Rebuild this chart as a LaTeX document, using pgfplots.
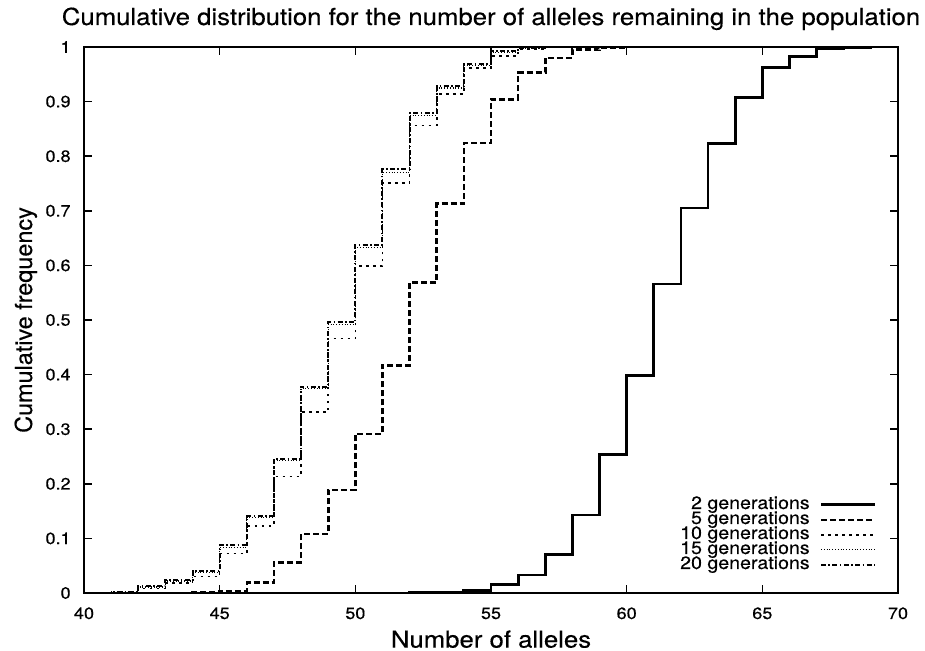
\documentclass[border=0pt]{standalone}
\usepackage{fontspec}
\setmainfont{TeX Gyre Heros}
\newfontfamily\wide[FakeStretch=1.1,FakeBold=0.3]{TeX Gyre Heros}
\newfontfamily\narrow[FakeBold=0.3]{TeX Gyre Heros}
\usepackage{pgfplots}
\pgfplotsset{compat=1.18}
\begin{document}
\begin{tikzpicture}
\begin{axis}[
  scale only axis, width=407pt, height=273pt,
  xmin=40, xmax=70, ymin=0, ymax=1,
  xtick={40,45,50,55,60,65,70},
  ytick={0,0.1,0.2,0.3,0.4,0.5,0.6,0.7,0.8,0.9,1},
  yticklabels={0,0.1,0.2,0.3,0.4,0.5,0.6,0.7,0.8,0.9,1},
  tick pos=both, xticklabel pos=lower, yticklabel pos=left,
  tick align=inside, major tick length=4pt,
  axis line style={line width=1pt},
  every tick/.style={black, line width=0.8pt},
  /pgf/number format/assume math mode=true,
  ticklabel style={font=\wide\fontsize{8.2}{9}\selectfont},
  xticklabel style={inner sep=0pt, anchor=base, yshift=-13pt},
  yticklabel style={inner sep=0pt, anchor=east, xshift=-6.5pt},
  every axis title shift=0pt,
  title={Cumulative distribution for the number of alleles remaining in the population},
  title style={at={(axis description cs:0.5,1.0403)}, anchor=base, inner sep=0pt, font=\wide\fontsize{11.7}{13}\selectfont},
  xlabel={Number of alleles},
  xlabel style={at={(axis description cs:0.5,-0.1)}, anchor=base, inner sep=0pt, font=\wide\fontsize{11.7}{13}\selectfont},
  ylabel={Cumulative frequency},
  ylabel style={at={(axis description cs:-0.0639,0.5)}, anchor=base, rotate=0, inner sep=0pt, font=\narrow\fontsize{11.7}{13}\selectfont},
  legend style={at={(axis description cs:0.974,0.037)}, anchor=south east, draw=none, fill=none,
    font=\wide\fontsize{8.9}{9}\selectfont, inner sep=0pt, row sep=0pt, column sep=5pt,
    nodes={inner sep=0pt, text height=5.8pt, text depth=1.7pt}},
  legend cell align=right, legend plot pos=right,
  legend image code/.code={\draw[#1] (0pt,0pt) -- (27pt,0pt);},
]
% 2 generations
\addplot[const plot, black, line width=1.4pt] coordinates {
(40,0) (50,0) (52,0.001) (53,0.002) (54,0.004) (55,0.015) (56,0.033) (57,0.071)
(58,0.143) (59,0.253) (60,0.398) (61,0.566) (62,0.705) (63,0.823) (64,0.908)
(65,0.962) (66,0.983) (67,0.997) (68,0.999) (69,1) (70,1)};
\addlegendentry{2 generations}
% 5 generations
\addplot[const plot, black, line width=1.3pt, dash pattern=on 3pt off 1.5pt] coordinates {
(40,0) (43,0) (44,0.001) (45,0.004) (46,0.019) (47,0.056) (48,0.108) (49,0.189)
(50,0.291) (51,0.417) (52,0.569) (53,0.713) (54,0.824) (55,0.904) (56,0.953)
(57,0.980) (58,0.995) (59,0.999) (60,1) (70,1)};
\addlegendentry{5 generations}
% 10 generations
\addplot[const plot, black, line width=0.8pt, dash pattern=on 1.3pt off 2.2pt] coordinates {
(40,0) (41,0.001) (42,0.008) (43,0.018) (44,0.030) (45,0.072) (46,0.123) (47,0.213)
(48,0.331) (49,0.466) (50,0.599) (51,0.751) (52,0.856) (53,0.914) (54,0.961)
(55,0.983) (56,0.996) (57,0.999) (58,1) (70,1)};
\addlegendentry{10 generations}
% 15 generations
\addplot[const plot, black, line width=0.6pt, dash pattern=on 0.5pt off 0.9pt] coordinates {
(40,0) (41,0.002) (42,0.011) (43,0.022) (44,0.038) (45,0.084) (46,0.138) (47,0.242)
(48,0.374) (49,0.492) (50,0.633) (51,0.770) (52,0.875) (53,0.925) (54,0.966)
(55,0.990) (56,0.997) (57,1) (70,1)};
\addlegendentry{15 generations}
% 20 generations
\addplot[const plot, black, line width=1pt, dash pattern=on 2.5pt off 1.2pt on 0.8pt off 1.2pt] coordinates {
(40,0) (41,0.002) (42,0.012) (43,0.024) (44,0.040) (45,0.087) (46,0.141) (47,0.246)
(48,0.378) (49,0.496) (50,0.638) (51,0.776) (52,0.879) (53,0.928) (54,0.968)
(55,0.992) (56,0.998) (57,1) (70,1)};
\addlegendentry{20 generations}
\coordinate (sw) at (rel axis cs:0,0);
\end{axis}
\pgfresetboundingbox
\path (sw) ++(-42pt,-29pt) rectangle ++(462.5pt,325.5pt);
\end{tikzpicture}
\end{document}
